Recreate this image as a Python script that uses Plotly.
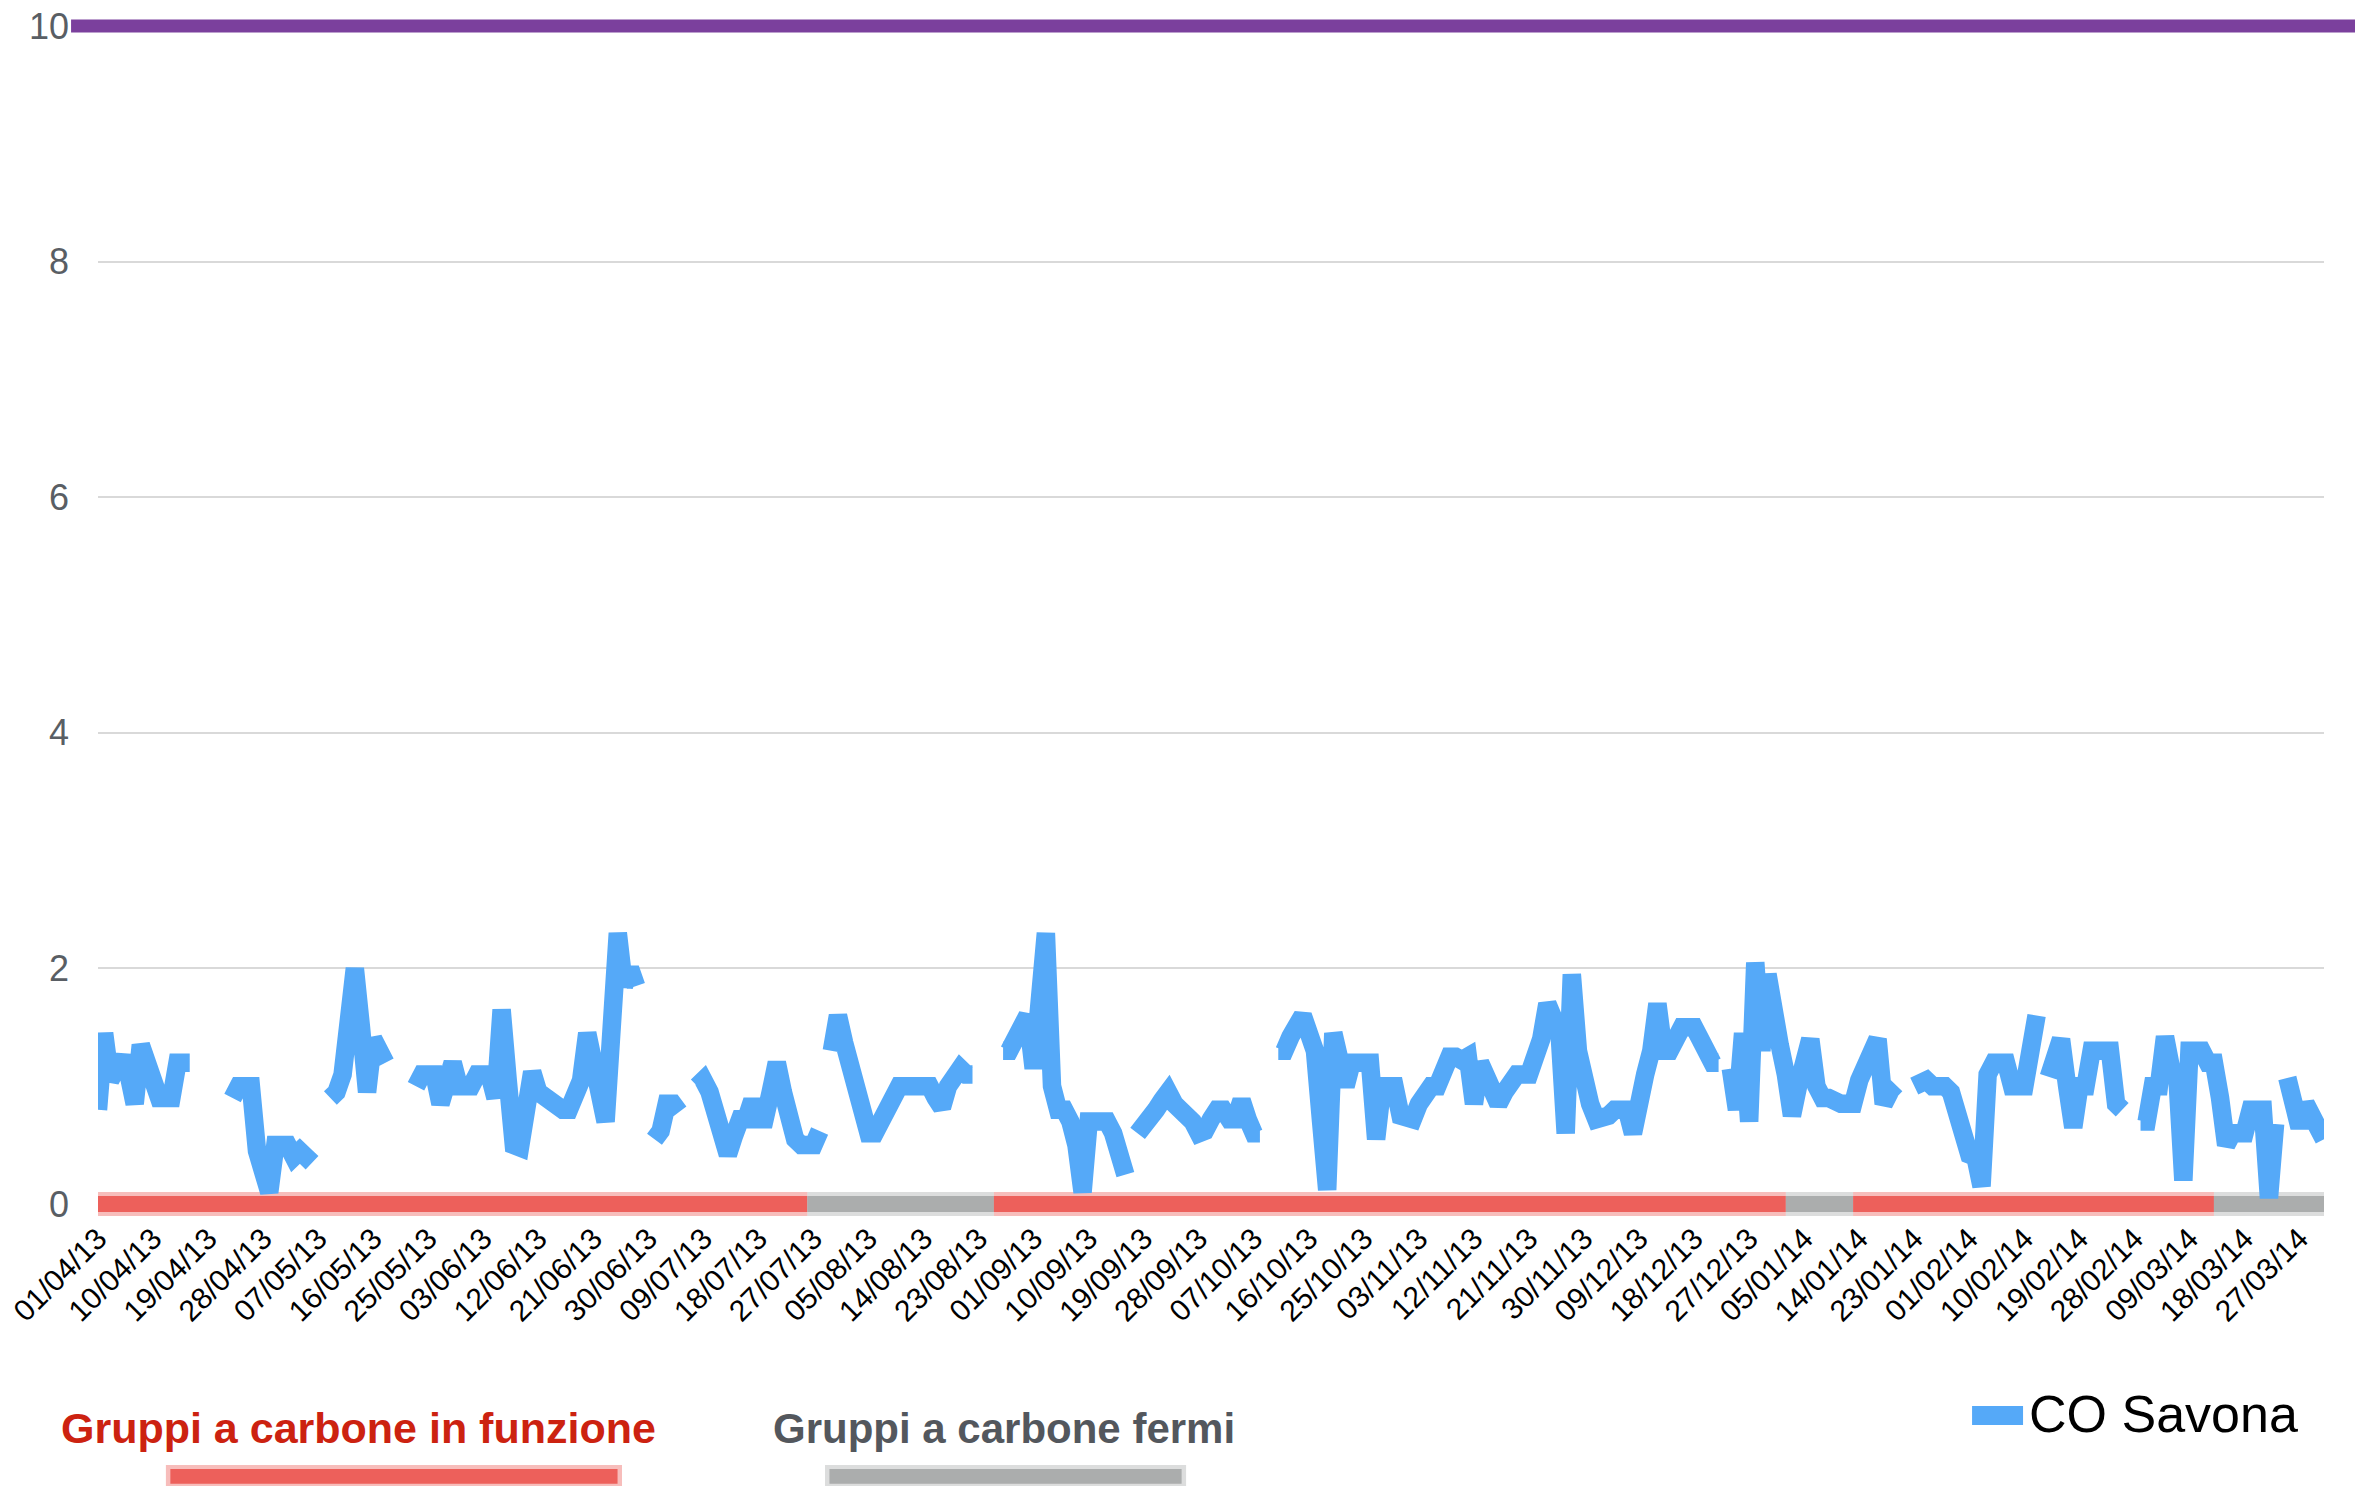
import pandas as pd
import plotly.graph_objects as go

N = None
# Daily CO concentration at Savona (mg/m3), April 2013 - March 2014, by month
co_apr13 = [0.8, 1.45, 1.05, 1.2, 1.25, 1.1, 0.85, 1.35, 1.15, 1.0,
            0.9, 0.9, 0.9, 1.2, 1.2, 1.2, N, N, N, N,
            N, N, 0.9, 1.0, 1.0, 1.0, 0.45, 0.3, 0.1, 0.5]
co_may13 = [0.5, 0.5, 0.4, 0.45, 0.4, 0.35, N, N, 0.9, 0.95,
            1.1, 1.55, 2.0, 1.5, 0.95, 1.4, 1.3, 1.2, N, N,
            N, N, 1.0, 1.1, 1.1, 1.1, 0.85, 1.0, 1.2, 1.0,
            1.0]
co_jun13 = [1.0, 1.1, 1.1, 1.1, 0.9, 1.65, 1.05, 0.5, 0.48, 0.75,
            1.12, 0.95, 0.9, 0.9, 0.8, 0.8, 0.8, 0.9, 1.05, 1.45,
            1.2, 0.95, 0.7, 1.5, 2.3, 1.85, 2.0, 1.85, N, N]
co_jul13 = [0.55, 0.62, 0.85, 0.85, 0.78, N, N, 1.0, 1.05, 0.95,
            0.75, 0.55, 0.42, 0.58, 0.72, 0.72, 0.88, 0.72, 0.72, 0.95,
            1.2, 0.95, 0.72, 0.55, 0.5, 0.5, 0.5, 0.62, N, 1.3,
            1.6]
co_aug13 = [1.37, 1.16, 0.95, 0.75, 0.6, 0.6, 0.7, 0.8, 0.9, 1.0,
            1.0, 1.0, 1.0, 1.0, 1.0, 0.9, 0.82, 1.0, 1.1, 1.15,
            1.1, 1.1, N, N, N, N, 1.3, 1.3, 1.4, 1.5,
            1.6]
co_sep13 = [1.15, 1.75, 2.3, 1.0, 0.8, 0.8, 0.7, 0.5, 0.1, 0.7,
            0.7, 0.7, 0.7, 0.6, 0.4, 0.25, N, 0.6, 0.65, 0.72,
            0.8, 0.88, 0.95, 0.85, 0.8, 0.8, 0.7, 0.6, 0.62, 0.72]
co_oct13 = [0.8, 0.8, 0.72, 0.72, 0.88, 0.72, 0.6, 0.6, N, N,
            1.3, 1.3, 1.42, 1.52, 1.6, 1.45, 1.3, 0.7, 0.12, 1.45,
            1.15, 1.0, 1.2, 1.2, 1.2, 1.2, 0.55, 1.0, 1.0, 1.0,
            0.75]
co_nov13 = [0.72, 0.72, 0.85, 0.95, 1.0, 1.0, 1.1, 1.25, 1.25, 1.22,
            1.25, 0.85, 1.2, 1.05, 0.95, 0.85, 0.95, 1.05, 1.1, 1.1,
            1.1, 1.25, 1.4, 1.7, 1.55, 1.45, 0.6, 1.95, 1.3, 1.0]
co_dec13 = [0.85, 0.72, 0.72, 0.75, 0.8, 0.8, 0.8, 0.6, 0.95, 1.1,
            1.3, 1.7, 1.3, 1.3, 1.4, 1.5, 1.5, 1.5, 1.4, 1.3,
            1.2, 1.2, N, 1.15, 0.8, 1.45, 0.7, 2.05, 1.3, 1.95,
            1.55]
co_jan14 = [1.35, 1.1, 0.75, 1.0, 1.2, 1.4, 1.0, 0.9, 0.9, 0.85,
            0.85, 0.85, 0.85, 1.05, 1.2, 1.3, 1.4, 0.85, 0.95, 0.9,
            N, N, 1.0, 1.05, 1.05, 1.0, 1.0, 1.0, 0.95, 0.75,
            0.6]
co_feb14 = [0.42, 0.4, 0.15, 1.1, 1.2, 1.2, 1.2, 1.0, 1.0, 1.0,
            1.3, 1.6, N, 1.08, 1.25, 1.4, 1.0, 0.65, 1.0, 1.0,
            1.3, 1.3, 1.3, 1.3, 0.85, 0.8, N, N]
co_mar14 = [0.7, 0.7, 1.0, 1.0, 1.42, 1.15, 1.1, 0.2, 1.3, 1.3,
            1.3, 1.2, 1.2, 0.9, 0.5, 0.6, 0.6, 0.6, 0.8, 0.8,
            0.8, 0.05, 0.68, N, 1.07, 0.75, 0.65, 0.85, 0.72, 0.62,
            0.55]

co_values = (co_apr13 + co_may13 + co_jun13 + co_jul13 + co_aug13 + co_sep13 +
             co_oct13 + co_nov13 + co_dec13 + co_jan14 + co_feb14 + co_mar14)
dates = pd.date_range("2013-04-01", periods=len(co_values), freq="D").strftime("%Y-%m-%d").tolist()

# Coal units status periods
status_start = ["2013-03-30", "2013-07-26", "2013-08-25 12:00", "2014-01-02", "2014-01-13", "2014-03-13"]
status_end = ["2013-07-26", "2013-08-25 12:00", "2014-01-02", "2014-01-13", "2014-03-13", "2014-04-03"]
status_state = ["on", "off", "on", "off", "on", "off"]

LIMIT = 10
Y_MAX = 10
y_ticks = [0, 2, 4, 6, 8, 10]

series_name = "CO Savona"
label_on = "Gruppi a carbone in funzione"
label_off = "Gruppi a carbone fermi"

BLUE = "#55A9F8"
RED = "#EC5B55"
GREY = "#A8AAAA"
PURPLE = "#7B409D"
FONT = "Liberation Sans, Arial, sans-serif"

fig = go.Figure()
fig.add_trace(go.Scatter(
    x=dates, y=co_values, mode="lines", name=series_name,
    line=dict(color=BLUE, width=18.5), connectgaps=False, showlegend=False,
))

PLOT_H = 1178.0
shapes = []
# status band along y = 0 (soft edge + solid core)
for s, e, st in zip(status_start, status_end, status_state):
    col = RED if st == "on" else GREY
    shapes.append(dict(type="rect", xref="x", yref="paper", x0=s, x1=e,
                       y0=-12 / PLOT_H, y1=12 / PLOT_H, fillcolor=col, opacity=0.4,
                       line=dict(width=0), layer="below"))
    shapes.append(dict(type="rect", xref="x", yref="paper", x0=s, x1=e,
                       y0=-8 / PLOT_H, y1=8 / PLOT_H, fillcolor=col, opacity=0.95,
                       line=dict(width=0), layer="below"))

# limit line at 10
shapes.append(dict(type="line", xref="paper", yref="paper", x0=-0.0121, x1=1.015,
                   y0=LIMIT / Y_MAX, y1=LIMIT / Y_MAX, line=dict(color=PURPLE, width=13)))

# legend marks at bottom
for x0, x1, col in [(0.0305, 0.2354, RED), (0.3266, 0.4888, GREY)]:
    shapes.append(dict(type="rect", xref="paper", yref="paper", x0=x0, x1=x1,
                       y0=-0.2405, y1=-0.2215, fillcolor=col, opacity=0.4, line=dict(width=0)))
    shapes.append(dict(type="rect", xref="paper", yref="paper", x0=x0 + 0.002, x1=x1 - 0.002,
                       y0=-0.2375, y1=-0.2250, fillcolor=col, opacity=0.95, line=dict(width=0)))
shapes.append(dict(type="rect", xref="paper", yref="paper", x0=0.8419, x1=0.8648,
                   y0=-0.1877, y1=-0.1715, fillcolor=BLUE, line=dict(width=0)))

annotations = [
    dict(text="<b>" + label_on + "</b>", xref="paper", yref="paper", x=0.1170, y=-0.1902,
         xanchor="center", yanchor="middle", showarrow=False,
         font=dict(family=FONT, size=43, color="#CC2210")),
    dict(text="<b>" + label_off + "</b>", xref="paper", yref="paper", x=0.4068, y=-0.1902,
         xanchor="center", yanchor="middle", showarrow=False,
         font=dict(family=FONT, size=42, color="#53575D")),
    dict(text=series_name, xref="paper", yref="paper", x=0.8665, y=-0.1783,
         xanchor="left", yanchor="middle", showarrow=False,
         font=dict(family=FONT, size=52, color="#000000")),
]

fig.update_layout(
    width=2355, height=1486,
    margin=dict(l=98, r=31, t=26, b=282),
    paper_bgcolor="white", plot_bgcolor="rgba(0,0,0,0)",
    font=dict(family=FONT),
    shapes=shapes, annotations=annotations, showlegend=False,
    xaxis=dict(type="date", range=[dates[0], dates[-1]], tickmode="linear",
               tick0=dates[0], dtick=9 * 86400000, tickformat="%d/%m/%y",
               tickangle=-45, tickfont=dict(family=FONT, size=30, color="#000000"),
               showgrid=False, zeroline=False, showline=False, ticks="",
               ticklabelstandoff=10, automargin=False),
    yaxis=dict(range=[0, Y_MAX], tickmode="array", tickvals=y_ticks,
               tickfont=dict(family=FONT, size=36, color="#595E64"),
               showgrid=True, gridcolor="#D9D9D9", gridwidth=2,
               zeroline=False, showline=False, ticks="", ticklabelstandoff=28,
               automargin=False),
)

fig.write_html("out.html", config={"displayModeBar": False},
               post_script="document.body.style.margin='0';")
